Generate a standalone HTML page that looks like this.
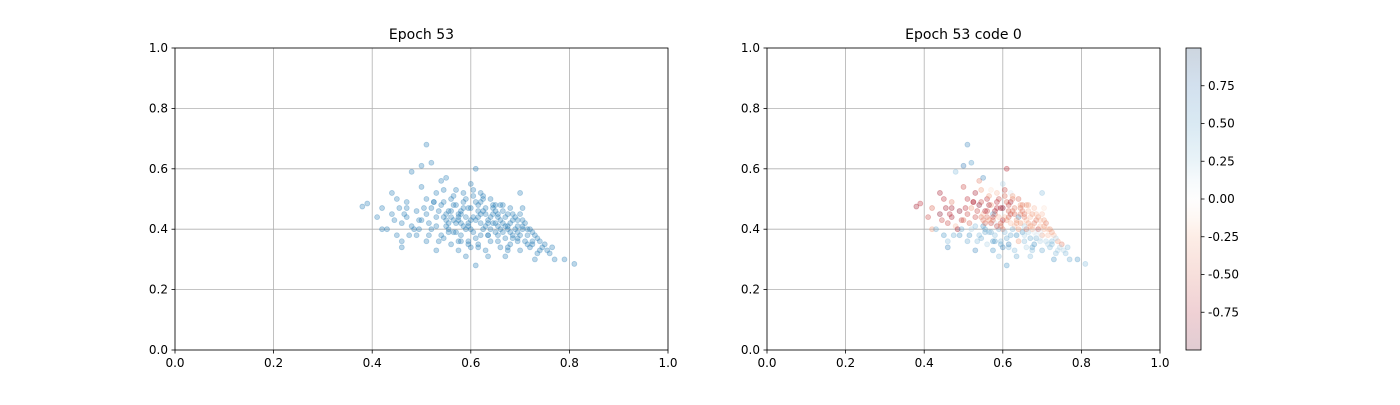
<!DOCTYPE html>
<html><head><meta charset="utf-8"><style>
body{margin:0;background:#fff;}
svg text{font-family:"DejaVu Sans","Liberation Sans",sans-serif;font-size:12px;fill:#000;}
svg text.title{font-size:14px;}
</style></head><body>
<svg id="fig" width="1400" height="400"></svg>
<script>
const xs=[0.38,0.39,0.41,0.42,0.42,0.43,0.44,0.44,0.45,0.45,0.46,0.46,0.46,0.47,0.47,0.48,0.48,0.49,0.49,0.50,0.50,0.50,0.51,0.51,0.51,0.52,0.52,0.52,0.53,0.53,0.53,0.54,0.54,0.54,0.55,0.55,0.55,0.56,0.56,0.56,0.57,0.57,0.57,0.58,0.58,0.58,0.59,0.59,0.59,0.60,0.60,0.60,0.60,0.61,0.61,0.61,0.61,0.62,0.62,0.62,0.63,0.63,0.63,0.64,0.64,0.64,0.65,0.65,0.65,0.66,0.66,0.66,0.67,0.67,0.67,0.68,0.68,0.68,0.69,0.69,0.70,0.70,0.70,0.71,0.71,0.72,0.72,0.73,0.73,0.74,0.74,0.75,0.76,0.77,0.79,0.81,0.58,0.60,0.62,0.64,0.56,0.59,0.63,0.66,0.61,0.55,0.68,0.57,0.65,0.62,0.53,0.51,0.47,0.58,0.70,0.67,
0.545,0.555,0.565,0.575,0.585,0.595,0.605,0.615,0.625,0.635,0.645,0.655,0.665,0.675,0.685,0.695,0.705,0.715,0.725,0.735,0.545,0.555,0.565,0.575,0.585,0.595,0.605,0.615,0.625,0.635,0.645,0.655,0.665,0.675,0.685,0.695,0.705,0.715,0.725,0.745,0.505,0.515,0.525,0.535,0.545,0.565,0.585,0.605,0.625,0.645,0.665,0.685,0.705,0.725,0.485,0.495,0.465,0.475,0.455,0.445,0.565,0.575,0.595,0.615,0.635,0.655,0.675,0.695,0.715,0.735,0.555,0.575,0.595,0.615,0.635,0.655,0.675,0.695,0.525,0.545,0.585,0.605,0.625,0.645,0.665,0.685,0.705,0.755,0.765,0.495,0.515,0.535,0.555,0.575,0.595,0.615,0.635,0.655,0.675,0.695];
const ys=[0.475,0.485,0.44,0.47,0.40,0.40,0.52,0.45,0.50,0.38,0.34,0.36,0.42,0.49,0.44,0.41,0.59,0.46,0.38,0.54,0.61,0.43,0.68,0.50,0.36,0.47,0.40,0.62,0.52,0.44,0.33,0.56,0.48,0.38,0.45,0.57,0.41,0.50,0.35,0.44,0.48,0.39,0.53,0.46,0.42,0.36,0.50,0.44,0.31,0.47,0.40,0.55,0.34,0.60,0.43,0.28,0.49,0.38,0.45,0.52,0.41,0.33,0.47,0.44,0.36,0.50,0.42,0.39,0.46,0.48,0.34,0.40,0.44,0.37,0.31,0.42,0.47,0.35,0.40,0.44,0.38,0.52,0.33,0.42,0.36,0.40,0.34,0.38,0.30,0.36,0.33,0.35,0.32,0.30,0.30,0.285,0.45,0.43,0.42,0.40,0.46,0.40,0.45,0.43,0.37,0.43,0.39,0.42,0.48,0.49,0.41,0.45,0.47,0.38,0.45,0.41,
0.44,0.46,0.43,0.45,0.41,0.47,0.44,0.46,0.40,0.43,0.45,0.41,0.42,0.40,0.43,0.39,0.41,0.38,0.39,0.37,0.49,0.40,0.48,0.43,0.49,0.42,0.39,0.48,0.46,0.38,0.42,0.44,0.39,0.45,0.37,0.41,0.43,0.40,0.36,0.34,0.47,0.42,0.49,0.46,0.37,0.51,0.47,0.51,0.50,0.48,0.46,0.38,0.40,0.35,0.40,0.43,0.45,0.38,0.47,0.43,0.39,0.36,0.35,0.34,0.38,0.36,0.34,0.37,0.35,0.32,0.42,0.44,0.41,0.44,0.42,0.45,0.41,0.43,0.49,0.53,0.52,0.53,0.51,0.47,0.48,0.45,0.47,0.33,0.34,0.40,0.38,0.36,0.39,0.33,0.36,0.35,0.31,0.38,0.33,0.36];
const cs=[-0.8,-0.7,-0.6,-0.5,-0.3,0.4,-0.8,-0.9,-0.7,0.5,0.6,0.3,-0.6,-0.4,-0.8,-0.2,0.3,-0.9,0.5,-0.6,0.7,-0.5,0.6,-0.7,0.4,-0.3,0.2,0.5,-0.8,-0.6,0.6,-0.4,-0.9,0.3,-0.2,0.6,0.5,-0.7,0.2,-0.5,-0.3,0.4,-0.1,-0.8,0.1,0.5,-0.6,-0.2,0.3,-0.9,-0.4,0.2,0.6,-0.7,-0.3,0.5,-0.5,0.4,-0.6,0.1,-0.2,0.3,-0.4,0.6,-0.3,-0.5,-0.1,0.5,-0.4,-0.3,0.2,-0.5,-0.2,0.4,0.3,-0.4,-0.2,0.5,-0.6,-0.3,-0.3,0.3,0.4,-0.4,0.2,-0.3,0.3,-0.2,0.5,-0.3,0.2,-0.4,0.3,0.4,0.5,0.3,-0.5,-0.7,-0.2,-0.3,-0.6,0.3,-0.5,-0.2,0.4,-0.4,0.1,-0.6,-0.4,-0.8,0.3,-0.6,-0.8,0.3,-0.2,-0.3,
-0.4,-0.7,-0.3,0.4,-0.6,-0.8,-0.2,-0.5,0.3,-0.3,-0.4,0.2,-0.3,-0.2,-0.4,0.1,-0.3,-0.2,-0.3,0.2,-0.6,0.4,-0.8,-0.4,-0.7,-0.5,0.3,-0.6,-0.4,0.5,-0.3,-0.4,0.2,-0.3,0.4,-0.2,-0.3,-0.2,0.3,0.2,-0.7,-0.5,-0.8,-0.6,0.4,-0.3,-0.7,-0.5,-0.4,-0.3,-0.2,0.1,-0.2,0.3,-0.8,-0.6,-0.7,0.4,-0.8,-0.6,0.3,0.5,0.4,0.3,0.2,0.3,0.4,0.1,0.2,0.3,-0.5,-0.6,-0.4,-0.5,-0.3,-0.4,-0.2,-0.2,-0.7,-0.3,-0.2,-0.6,-0.3,-0.4,-0.3,-0.2,-0.1,0.2,0.3,0.4,0.5,0.3,0.4,0.5,0.3,0.6,0.4,0.2,0.3,0.2];
const ticks=[0,0.2,0.4,0.6,0.8,1.0];
const cbTicks=[0.75,0.5,0.25,0,-0.25,-0.5,-0.75];
const NS="http://www.w3.org/2000/svg";
const svg=document.getElementById('fig');
function mk(t,a,p){const e=document.createElementNS(NS,t);for(const k in a)e.setAttribute(k,a[k]);(p||svg).appendChild(e);return e;}
const stops=[[-1,[103,0,31]],[-0.75,[178,24,43]],[-0.5,[214,96,77]],[-0.25,[244,165,130]],[-0.125,[253,219,199]],[0,[247,247,247]],[0.125,[209,229,240]],[0.25,[146,197,222]],[0.5,[67,147,195]],[0.75,[33,102,172]],[1,[5,48,97]]];
function cmap(v){v=Math.max(-1,Math.min(1,v));for(let i=0;i<stops.length-1;i++){const[a,ca]=stops[i],[b,cb]=stops[i+1];if(v<=b){const t=(v-a)/(b-a);return 'rgb('+ca.map((c,j)=>Math.round(c+(cb[j]-c)*t)).join(',')+')';}}return 'rgb(5,48,97)';}
function axes(x0,x1,y0,y1,title,name,colorFn){
  const g=mk('g',{});
  const sx=v=>x0+v*(x1-x0), sy=v=>y1-v*(y1-y0);
  ticks.forEach(t=>{
    mk('line',{x1:sx(t),x2:sx(t),y1:y0,y2:y1,stroke:'#b0b0b0','stroke-width':0.8},g);
    mk('line',{x1:x0,x2:x1,y1:sy(t),y2:sy(t),stroke:'#b0b0b0','stroke-width':0.8},g);
    mk('line',{x1:sx(t),x2:sx(t),y1:y1,y2:y1+3.5,stroke:'#000','stroke-width':0.8},g);
    mk('line',{x1:x0-3.5,x2:x0,y1:sy(t),y2:sy(t),stroke:'#000','stroke-width':0.8},g);
    const tx=mk('text',{x:sx(t),y:y1+17,'text-anchor':'middle'},g);tx.textContent=t.toFixed(1);
    const ty=mk('text',{x:x0-7,y:sy(t)+4,'text-anchor':'end'},g);ty.textContent=t.toFixed(1);
  });
  for(let i=0;i<xs.length;i++){
    const c=mk('circle',{cx:sx(xs[i]),cy:sy(ys[i]),r:2.5,fill:colorFn(i),'fill-opacity':0.3,stroke:colorFn(i),'stroke-opacity':0.3,'stroke-width':0.8},g);
    
    
  }
  mk('rect',{x:x0,y:y0,width:x1-x0,height:y1-y0,fill:'none',stroke:'#000','stroke-width':0.8},g);
  const tt=mk('text',{x:(x0+x1)/2,y:y0-9,'text-anchor':'middle','class':'title'},g);tt.textContent=title;
}
axes(175,668,48,350,'Epoch 53','left-scatter-plot',()=> '#1f77b4');
axes(767,1160,48,350,'Epoch 53 code 0','right-scatter-plot',i=>cmap(cs[i]));
const cb=mk('g',{});
const defs=mk('defs',{},cb);const lg=mk('linearGradient',{id:'cbg',x1:0,y1:1,x2:0,y2:0},defs);
stops.forEach(s=>mk('stop',{offset:(s[0]+1)/2,'stop-color':cmap(s[0])},lg));
const cx0=1186,cx1=1201,cy0=48,cy1=350;
mk('rect',{x:cx0,y:cy0,width:cx1-cx0,height:cy1-cy0,fill:'url(#cbg)','fill-opacity':0.2},cb);
mk('rect',{x:cx0,y:cy0,width:cx1-cx0,height:cy1-cy0,fill:'none',stroke:'#000','stroke-width':0.8},cb);
const cy=v=>(cy0+cy1)/2-v*(cy1-cy0)/2;
cbTicks.forEach(t=>{mk('line',{x1:cx1,x2:cx1+3.5,y1:cy(t),y2:cy(t),stroke:'#000','stroke-width':0.8},cb);
const tx=mk('text',{x:cx1+7,y:cy(t)+4},cb);tx.textContent=t.toFixed(2);});
</script>
</body></html>
